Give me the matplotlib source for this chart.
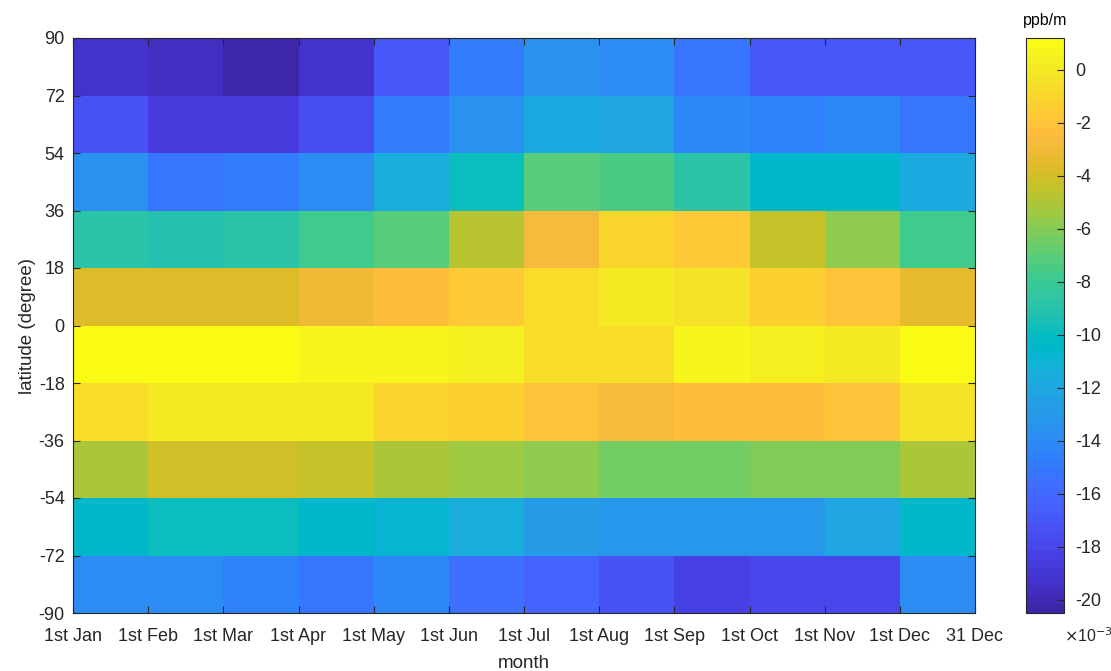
import numpy as np
import matplotlib
matplotlib.use("Agg")
import matplotlib.pyplot as plt
from matplotlib.colors import ListedColormap

plt.rcParams['font.family'] = ['Liberation Sans', 'DejaVu Sans']
plt.rcParams['axes.unicode_minus'] = False

# parula (64) colour table
parula = ListedColormap([
    [0.2422, 0.1504, 0.6603], [0.2504, 0.1650, 0.7076], [0.2578, 0.1818, 0.7511], [0.2647, 0.1978, 0.7952],
    [0.2706, 0.2147, 0.8364], [0.2751, 0.2342, 0.8710], [0.2783, 0.2559, 0.8991], [0.2803, 0.2782, 0.9221],
    [0.2813, 0.3006, 0.9414], [0.2810, 0.3228, 0.9579], [0.2795, 0.3447, 0.9717], [0.2760, 0.3667, 0.9829],
    [0.2699, 0.3892, 0.9906], [0.2602, 0.4123, 0.9952], [0.2440, 0.4358, 0.9988], [0.2206, 0.4603, 0.9973],
    [0.1963, 0.4847, 0.9892], [0.1834, 0.5074, 0.9798], [0.1786, 0.5289, 0.9682], [0.1764, 0.5499, 0.9520],
    [0.1687, 0.5703, 0.9359], [0.1540, 0.5902, 0.9218], [0.1460, 0.6091, 0.9079], [0.1380, 0.6276, 0.8973],
    [0.1248, 0.6459, 0.8883], [0.1113, 0.6635, 0.8763], [0.0952, 0.6798, 0.8598], [0.0689, 0.6948, 0.8394],
    [0.0297, 0.7082, 0.8163], [0.0036, 0.7203, 0.7917], [0.0067, 0.7312, 0.7660], [0.0433, 0.7411, 0.7394],
    [0.0964, 0.7500, 0.7120], [0.1408, 0.7584, 0.6842], [0.1717, 0.7670, 0.6554], [0.1938, 0.7758, 0.6251],
    [0.2161, 0.7843, 0.5923], [0.2470, 0.7918, 0.5567], [0.2906, 0.7973, 0.5188], [0.3406, 0.8008, 0.4789],
    [0.3909, 0.8029, 0.4354], [0.4456, 0.8024, 0.3909], [0.5044, 0.7993, 0.3480], [0.5616, 0.7942, 0.3045],
    [0.6174, 0.7876, 0.2612], [0.6720, 0.7793, 0.2227], [0.7242, 0.7698, 0.1910], [0.7738, 0.7598, 0.1646],
    [0.8203, 0.7498, 0.1535], [0.8634, 0.7406, 0.1596], [0.9035, 0.7330, 0.1774], [0.9393, 0.7288, 0.2100],
    [0.9728, 0.7298, 0.2394], [0.9956, 0.7434, 0.2371], [0.9970, 0.7659, 0.2199], [0.9952, 0.7893, 0.2028],
    [0.9892, 0.8136, 0.1885], [0.9786, 0.8386, 0.1766], [0.9676, 0.8639, 0.1643], [0.9610, 0.8890, 0.1537],
    [0.9597, 0.9135, 0.1423], [0.9628, 0.9373, 0.1265], [0.9691, 0.9606, 0.1064], [0.9769, 0.9839, 0.0805],
])

month_labels = ['1st Jan', '1st Feb', '1st Mar', '1st Apr', '1st May', '1st Jun', '1st Jul',
                '1st Aug', '1st Sep', '1st Oct', '1st Nov', '1st Dec', '31 Dec']
lat_edges = [-90, -72, -54, -36, -18, 0, 18, 36, 54, 72, 90]

# values in 1e-3 ppb/m, one list per latitude band (Jan..Dec)
band_72_90 = [-19.29, -19.64, -20.50, -19.29, -16.88, -14.99, -13.44, -13.78, -15.33, -17.06, -17.06, -16.88]
band_54_72 = [-17.23, -18.61, -18.78, -17.57, -14.99, -13.61, -11.89, -12.23, -14.13, -14.47, -14.30, -15.16]
band_36_54 = [-13.61, -15.16, -14.82, -13.96, -11.37, -9.82, -7.07, -7.41, -8.79, -10.34, -10.51, -11.72]
band_18_36 = [-8.96, -9.31, -8.96, -7.93, -7.07, -4.66, -2.59, -0.87, -1.56, -4.31, -5.86, -7.76]
band_0_18 = [-3.62, -3.62, -3.62, -2.94, -2.25, -1.56, -0.60, 0.16, -0.20, -1.39, -2.07, -3.28]
band_m18_0 = [1.15, 1.20, 1.18, 0.85, 0.68, 0.34, -0.60, -0.60, 0.68, 0.34, 0.16, 1.03]
band_m36_m18 = [-0.52, 0.16, 0.16, -0.01, -1.04, -1.39, -2.07, -2.59, -2.25, -2.25, -2.07, -0.35]
band_m54_m36 = [-5.00, -3.97, -3.97, -4.31, -5.00, -5.35, -5.69, -6.38, -6.38, -6.04, -6.04, -5.00]
band_m72_m54 = [-10.51, -9.82, -9.82, -10.51, -10.68, -11.37, -12.75, -13.10, -13.10, -13.10, -12.23, -10.51]
band_m90_m72 = [-13.78, -13.96, -14.47, -15.33, -14.30, -15.68, -16.20, -17.23, -18.43, -18.09, -18.09, -13.78]

# bottom to top
grid = np.array([band_m90_m72, band_m72_m54, band_m54_m36, band_m36_m18, band_m18_0,
                 band_0_18, band_18_36, band_36_54, band_54_72, band_72_90])

fig = plt.figure(figsize=(11.11, 6.71), dpi=100)
ax = fig.add_axes([73/1111, 1 - 613/671, (975-73)/1111, (613-38)/671])
cax = fig.add_axes([1026/1111, 1 - 613/671, 38/1111, (613-38)/671])

x_edges = np.arange(13)
mesh = ax.pcolormesh(x_edges, lat_edges, grid, cmap=parula,
                     vmin=grid.min(), vmax=grid.max(), shading='flat')

dark = (0.15, 0.15, 0.15)
ax.set_xticks(x_edges)
ax.set_xticklabels(month_labels)
ax.set_yticks(lat_edges)
ax.set_xlim(0, 12)
ax.set_ylim(-90, 90)
ax.tick_params(direction='in', length=5, width=0.8, top=True, right=True,
               labelsize=13, colors=dark, labelcolor=dark)
ax.tick_params(axis='x', pad=11)
ax.tick_params(axis='y', pad=6)
for s in ax.spines.values():
    s.set_color(dark)
    s.set_linewidth(0.8)
ax.set_xlabel('month', fontsize=13.5, color=dark, labelpad=7)
ax.set_ylabel('latitude (degree)', fontsize=13.5, color=dark, labelpad=2)

cb = fig.colorbar(mesh, cax=cax)
cb.set_ticks(np.arange(-20, 1, 2))
cb.ax.tick_params(direction='in', length=5, width=0.8, labelsize=13,
                  colors=dark, labelcolor=dark, pad=8)
cb.outline.set_edgecolor(dark)
cb.outline.set_linewidth(0.8)
fig.text(1045/1111, 1 - 20/671, 'ppb/m', ha='center', va='center', fontsize=11.5, color='black')
fig.text(1064/1111, 1 - 636/671, r'$\times$10$^{-3}$', ha='left', va='center', fontsize=11.5, color=dark)

fig.savefig('out.png', dpi=100)
